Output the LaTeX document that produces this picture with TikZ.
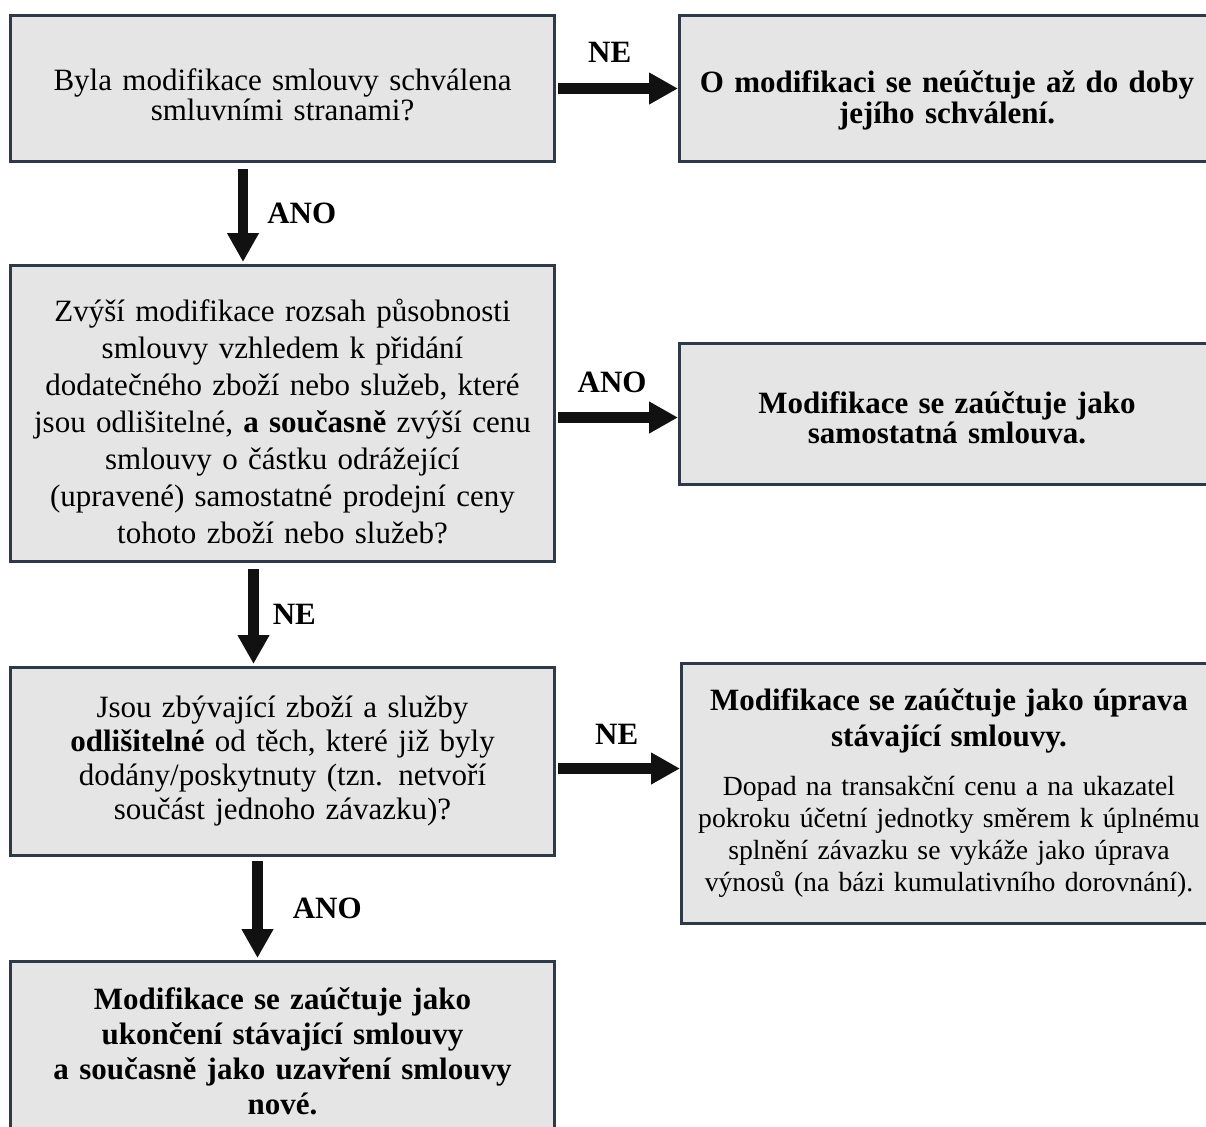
\documentclass[tikz,border=0pt]{standalone}
\usepackage{fontspec}
\setmainfont{Liberation Serif}
\usepackage{tikz}
\usetikzlibrary{arrows.meta,positioning}

\definecolor{boxfill}{RGB}{229,229,229}
\definecolor{boxline}{RGB}{46,58,72}
\definecolor{arrowcol}{RGB}{17,17,17}
% invisible strut that pushes the first line of a box down
\newcommand{\boxtopgap}[1]{\rule{0pt}{#1}}

\begin{document}
\begin{tikzpicture}[
  node distance=61pt,
  box/.style={draw=boxline,line width=1.5pt,fill=boxfill,align=center,
              text width=262pt,inner sep=0pt},
  qbox/.style={box,minimum width=272pt},
  rbox/.style={box,minimum width=267.5pt},
  arrow/.style={-{Triangle[length=14.5pt,width=15pt]},line width=5.25pt,draw=arrowcol},
  lbl/.style={font=\bfseries\fontsize{15.5}{18}\selectfont,inner sep=0pt}
]
\useasboundingbox (0,0) rectangle (603pt,-563pt);
\node[qbox,minimum height=73pt,anchor=north west,font=\fontsize{15.5}{15}\selectfont] (q1) at (4.5pt,-7pt)
  {\boxtopgap{17.2pt}Byla modifikace smlouvy schválena\\smluvními stranami?};
\node[rbox,minimum height=73pt,right=61pt of q1,font=\bfseries\fontsize{15.5}{15.5}\selectfont] (r1)
  {\boxtopgap{22.4pt}O modifikaci se neúčtuje až do doby\\jejího schválení.};
\node[qbox,minimum height=148pt,below=50.5pt of q1,font=\fontsize{15.5}{18.5}\selectfont] (q2)
  {\boxtopgap{19.4pt}Zvýší modifikace rozsah působnosti\\smlouvy vzhledem k přidání\\dodatečného zboží nebo služeb, které\\jsou odlišitelné, {\bfseries a současně} zvýší cenu\\smlouvy o částku odrážející\\(upravené) samostatné prodejní ceny\\tohoto zboží nebo služeb?};
\node[rbox,minimum height=70.5pt,right=61pt of q2,font=\bfseries\fontsize{15.5}{15}\selectfont] (r2)
  {\boxtopgap{14.9pt}Modifikace se zaúčtuje jako\\samostatná smlouva.};
\node[qbox,minimum height=94pt,below=51.5pt of q2,font=\fontsize{15.5}{17}\selectfont] (q3)
  {Jsou zbývající zboží a služby\\{\bfseries odlišitelné} od těch, které již byly\\dodány/poskytnuty (tzn. netvoří\\součást jednoho závazku)?};
\node[rbox,minimum height=130pt,right=62pt of q3,yshift=-16pt,font=\fontsize{13.85}{16}\selectfont] (r3)
  {{\bfseries\fontsize{15.5}{18}\selectfont Modifikace se zaúčtuje jako úprava}\\[2pt]
   {\bfseries\fontsize{15.5}{18}\selectfont stávající smlouvy.}\\[8.5pt]
   Dopad na transakční cenu a na ukazatel\\pokroku účetní jednotky směrem k úplnému\\splnění závazku se vykáže jako úprava\\výnosů (na bázi kumulativního dorovnání).};
\node[qbox,minimum height=90pt,below=51.5pt of q3,font=\bfseries\fontsize{15.5}{17.5}\selectfont] (q4)
  {Modifikace se zaúčtuje jako\\ukončení stávající smlouvy\\a současně jako uzavření smlouvy\\nové.};
% connectors
\draw[arrow,shorten <=1pt] (q1.east) -- (q1.east -| r1.west) node[lbl,pos=0.44,above=10.5pt] {NE};
\draw[arrow,shorten <=3pt,shorten >=1pt] ([xshift=-19.75pt]q1.south) -- ([xshift=-19.75pt]q2.north)
  node[lbl,midway,right=9.5pt] {ANO};
\draw[arrow,shorten <=1pt] ([yshift=-2pt]q2.east) -- ([yshift=-2pt]q2.east -| r2.west) node[lbl,pos=0.46,above=9.5pt] {ANO};
\draw[arrow,shorten <=3pt,shorten >=1pt] ([xshift=-14.5pt]q2.south) -- ([xshift=-14.5pt]q3.north)
  node[lbl,midway,right=7pt] {NE};
\draw[arrow,shorten <=1pt] ([yshift=-3.5pt]q3.east) -- ([yshift=-3.5pt]q3.east -| r3.west) node[lbl,pos=0.49,above=9.5pt] {NE};
\draw[arrow,shorten <=2pt,shorten >=1pt] ([xshift=-12.5pt]q3.south) -- ([xshift=-12.5pt]q4.north)
  node[lbl,midway,right=15pt] {ANO};
\end{tikzpicture}
\end{document}
